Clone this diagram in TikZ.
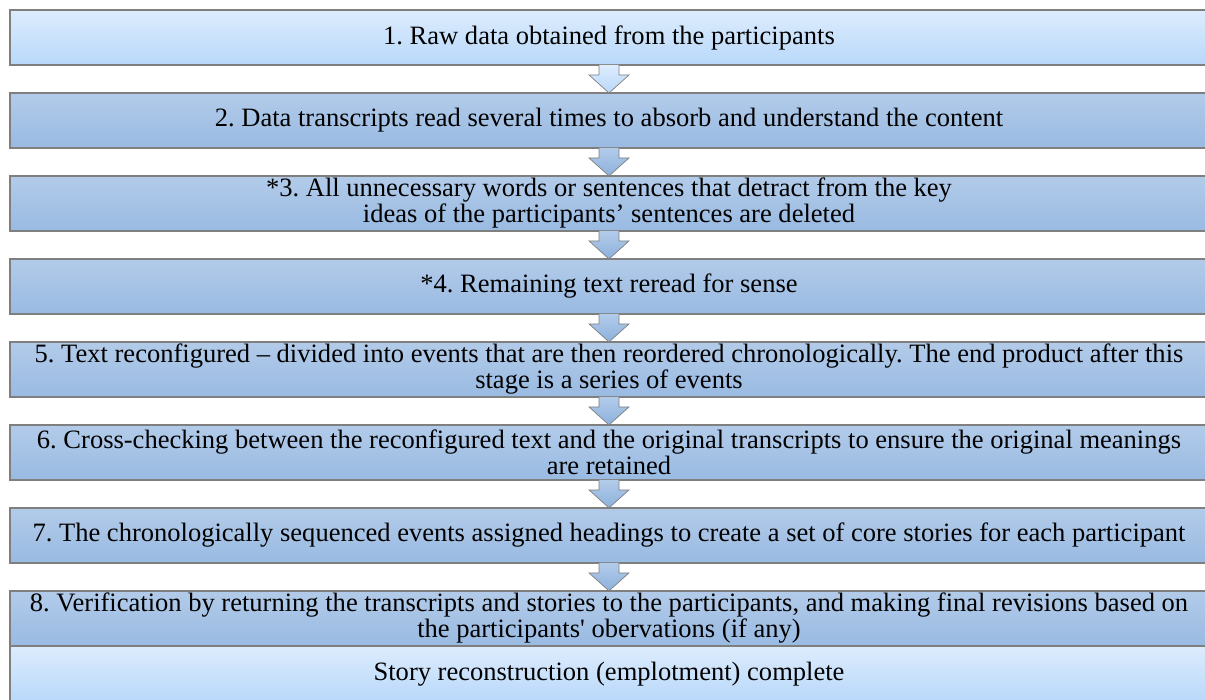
\documentclass[tikz,border=0pt]{standalone}
\usepackage{fontspec}
\setmainfont{Liberation Serif}
\usepackage{tikz}
\usetikzlibrary{positioning,calc}

\definecolor{lightTop}{HTML}{DDECFD}
\definecolor{lightBot}{HTML}{B8D8FA}
\definecolor{midTop}{HTML}{B2CBE9}
\definecolor{midBot}{HTML}{99BAE2}
\definecolor{arrowBot}{HTML}{8DB1DC}
\definecolor{edgeGray}{HTML}{7F7F7F}

\begin{document}
\frenchspacing
\begin{tikzpicture}[
    x=0.02cm, y=-0.02cm,
    node distance=0.56cm,
    stepbox/.style={rectangle, draw=edgeGray, line width=0.9pt, top color=midTop, bottom color=midBot, minimum width=23.96cm, minimum height=1.1cm, inner sep=0pt, outer sep=0pt, align=center, font=\fontsize{15.1}{14.8}\selectfont},
    firstbox/.style={stepbox, top color=lightTop, bottom color=lightBot},
    endbox/.style={stepbox, top color=lightTop, bottom color=lightBot, minimum height=1.12cm},
    flowarrow/.style={draw=edgeGray, line width=0.4pt, top color=midTop, bottom color=arrowBot},
    firstarrow/.style={flowarrow, top color=lightTop, bottom color=lightBot}
]
\useasboundingbox (0,0) rectangle (1205,700);

% Steps
\node[firstbox] (step1) at (609,37.5) {1. Raw data obtained from the participants};

\node[stepbox, below=of step1] (step2) {2. Data transcripts read several times to absorb and understand the content};

\node[stepbox, below=of step2] (step3) {*3. All unnecessary words or sentences that detract from the key\\
    ideas of the participants’ sentences are deleted};

\node[stepbox, below=of step3] (step4) {*4. Remaining text reread for sense};

\node[stepbox, below=of step4] (step5) {5. Text reconfigured – divided into events that are then reordered chronologically. The end product after this\\
    stage is a series of events};

\node[stepbox, below=of step5] (step6) {6. Cross-checking between the reconfigured text and the original transcripts to ensure the original meanings\\
    are retained};

\node[stepbox, below=of step6] (step7) {7. The chronologically sequenced events assigned headings to create a set of core stories for each participant};

\node[stepbox, below=of step7] (step8) {8. Verification by returning the transcripts and stories to the participants, and making final revisions based on\\
    the participants\textquotesingle{} obervations (if any)};

% Result
\node[endbox, below=0cm of step8] (done) {Story reconstruction (emplotment) complete};

% Arrows
\draw[firstarrow] ($(step1.south)+(-10,0)$) -- ($(step1.south)+(-10,10)$) -- ($(step1.south)+(-20,10)$) -- (step2.north) -- ($(step1.south)+(20,10)$) -- ($(step1.south)+(10,10)$) -- ($(step1.south)+(10,0)$);
\foreach \from/\to in {step2/step3, step3/step4, step4/step5, step5/step6, step6/step7, step7/step8}
  \draw[flowarrow] ($(\from.south)+(-10,0)$) -- ($(\from.south)+(-10,10)$) -- ($(\from.south)+(-20,10)$) -- (\to.north) -- ($(\from.south)+(20,10)$) -- ($(\from.south)+(10,10)$) -- ($(\from.south)+(10,0)$);

\end{tikzpicture}
\end{document}
